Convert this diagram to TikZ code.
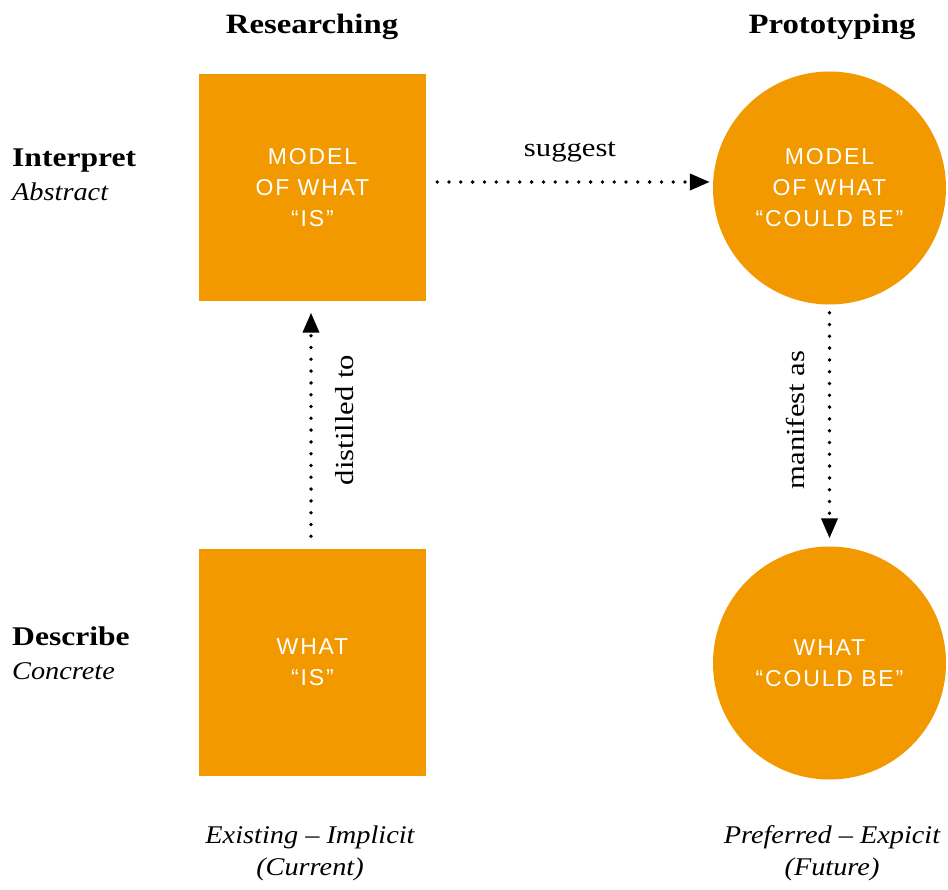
\documentclass[tikz,border=0pt]{standalone}
\usepackage{fontspec}
\setmainfont{Liberation Serif}[FakeStretch=1.18,
  BoldFeatures={FakeStretch=1.17},
  ItalicFeatures={FakeStretch=1.11}]
\newfontfamily\boxfont[LetterSpace=8]{Liberation Sans}
\usetikzlibrary{arrows.meta}
\definecolor{boxorange}{HTML}{F29900}
\tikzset{
  x=1pt, y=-1pt,
  shapebase/.style={fill=boxorange, text=white, inner sep=0pt, align=center,
    font=\boxfont\fontsize{23}{31}\selectfont},
  sqbox/.style={shapebase, rectangle, minimum size=227pt},
  circbox/.style={shapebase, circle, minimum size=233pt},
  txt/.style={inner sep=0pt},
  heading/.style={txt, font=\fontsize{28}{32}\selectfont\bfseries, anchor=base},
  rowhead/.style={txt, font=\fontsize{27}{32}\selectfont\bfseries, anchor=base west},
  rowsub/.style={txt, font=\fontsize{25.5}{32}\selectfont\itshape, anchor=base west},
  foot/.style={txt, font=\fontsize{25.5}{32}\selectfont\itshape, anchor=base},
  edgelabel/.style={txt, font=\fontsize{26}{32}\selectfont},
  dotarrow/.style={line width=3.8pt, line cap=round, dash pattern=on 0pt off 11.8pt,
    -{Triangle[length=20pt,width=16pt]}},
}
\begin{document}
\begin{tikzpicture}
\useasboundingbox (0,0) rectangle (948,890);
% headings
\node[heading] (hres) at (312,34) {Researching};
\node[heading] (hpro) at (832,34) {Prototyping};
% row labels
\node[rowhead] (interp) at (12,167) {Interpret};
\node[rowsub] (abstr) at (12,201) {Abstract};
\node[rowhead] (descr) at (12,645) {Describe};
\node[rowsub] (concr) at (12,679) {Concrete};
% shapes
\node[sqbox] (s1) at (312.5,188) {MODEL\\OF WHAT\\“IS”};
\node[sqbox] (s2) at (312.5,662) {WHAT\\“IS”};
\node[circbox] (c1) at (829.5,188) {MODEL\\OF WHAT\\“COULD BE”};
\node[circbox] (c2) at (829.5,663) {WHAT\\“COULD BE”};
% footers
\node[foot] (f1a) at (310,843) {Existing – Implicit};
\node[foot] (f1b) at (310,875) {(Current)};
\node[foot] (f2a) at (832,843) {Preferred – Expicit};
\node[foot] (f2b) at (832,875) {(Future)};
% connectors
\draw[dotarrow] ([xshift=11pt,yshift=6pt]s1.east) -- ([xshift=-3pt,yshift=6pt]c1.west);
\node[edgelabel, anchor=base] (lsug) at (570,157) {suggest};
\draw[dotarrow] ([xshift=-1.5pt,yshift=12pt]s2.north) -- ([xshift=-1.5pt,yshift=-11pt]s1.south);
\node[edgelabel, rotate=90] (ldist) at (345,420) {distilled to};
\draw[dotarrow] ([yshift=-8pt]c1.south) -- ([yshift=8pt]c2.north);
\node[edgelabel, rotate=90] (lman) at (795,420) {manifest as};
\end{tikzpicture}
\end{document}
